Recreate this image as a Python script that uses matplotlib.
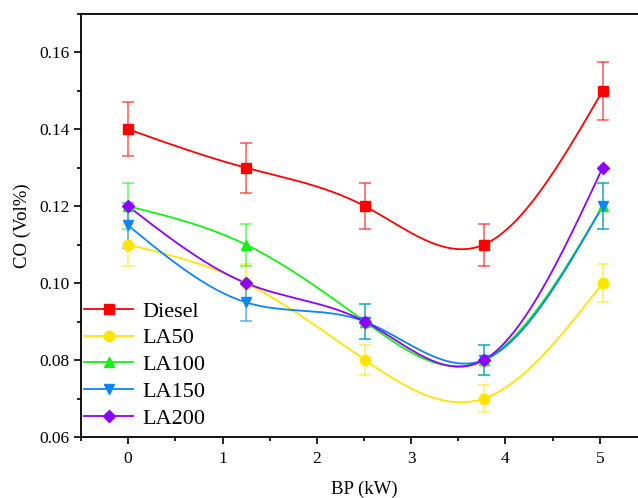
import numpy as np
import matplotlib
matplotlib.use("Agg")
import matplotlib.pyplot as plt
from matplotlib.ticker import MultipleLocator

plt.rcParams['font.family'] = ['Liberation Serif', 'DejaVu Serif']
plt.rcParams['mathtext.fontset'] = 'stix'

# Brake power (kW)
bp = [0.0, 1.25, 2.51, 3.77, 5.03]

# CO emissions (Vol%)
diesel = [0.14, 0.13, 0.12, 0.11, 0.15]
la50 = [0.11, 0.10, 0.08, 0.07, 0.10]
la100 = [0.12, 0.11, 0.09, 0.08, 0.12]
la150 = [0.115, 0.095, 0.09, 0.08, 0.12]
la200 = [0.12, 0.10, 0.09, 0.08, 0.13]

labels = ["Diesel", "LA50", "LA100", "LA150", "LA200"]
series = [diesel, la50, la100, la150, la200]
# relative error (fraction of value); LA200 drawn without error bars
rel_err = [0.05, 0.05, 0.05, 0.05, 0.0]

colors = ["#FF0000", "#FFE400", "#14F014", "#0A84FF", "#8C00FF"]
markers = ["s", "o", "^", "v", "D"]
msizes = [7, 7.5, 7.5, 7.5, 6]


def natural_spline(x, y, xs):
    x = np.asarray(x, float)
    y = np.asarray(y, float)
    n = len(x)
    h = np.diff(x)
    A = np.zeros((n, n))
    b = np.zeros(n)
    A[0, 0] = 1
    A[-1, -1] = 1
    for i in range(1, n - 1):
        A[i, i - 1] = h[i - 1]
        A[i, i] = 2 * (h[i - 1] + h[i])
        A[i, i + 1] = h[i]
        b[i] = 3 * ((y[i + 1] - y[i]) / h[i] - (y[i] - y[i - 1]) / h[i - 1])
    c = np.linalg.solve(A, b)
    out = np.empty_like(xs)
    for k, xv in enumerate(xs):
        i = min(max(np.searchsorted(x, xv) - 1, 0), n - 2)
        d = xv - x[i]
        bi = (y[i + 1] - y[i]) / h[i] - h[i] * (2 * c[i] + c[i + 1]) / 3
        di = (c[i + 1] - c[i]) / (3 * h[i])
        out[k] = y[i] + bi * d + c[i] * d ** 2 + di * d ** 3
    return out


fig = plt.figure(figsize=(6.38, 4.98), dpi=100)
ax = fig.add_axes([0.127, 0.1225, 0.887, 0.8495])

xs = np.linspace(bp[0], bp[-1], 300)
for lab, ys, col, mk, ms, re in zip(labels, series, colors, markers, msizes, rel_err):
    ax.plot(xs, natural_spline(bp, ys, xs), color=col, lw=1.3, zorder=2)
    if re > 0:
        ax.errorbar(bp, ys, yerr=np.array(ys) * re, fmt='none', ecolor=col,
                    elinewidth=1.1, capsize=4.5, capthick=1.1, alpha=0.65, zorder=3)
    ax.plot(bp, ys, linestyle='none', marker=mk, ms=ms, color=col, mec=col, zorder=4)
    ax.plot([], [], color=col, lw=1.3, marker=mk, ms=ms, label=lab)

ax.set_xlim(-0.5, 5.5)
ax.set_ylim(0.06, 0.17)
ax.xaxis.set_major_locator(MultipleLocator(1))
ax.xaxis.set_minor_locator(MultipleLocator(0.5))
ax.yaxis.set_major_locator(MultipleLocator(0.02))
ax.yaxis.set_minor_locator(MultipleLocator(0.01))
ax.set_yticks([0.06, 0.08, 0.10, 0.12, 0.14, 0.16])
ax.set_yticklabels(["0.06", "0.08", "0.10", "0.12", "0.14", "0.16"])
ax.tick_params(which='major', direction='out', length=5, width=1.2,
               labelsize=12.5, pad=3)
ax.tick_params(which='minor', direction='out', length=3, width=1.2)
ax.tick_params(axis='x', which='major', pad=5)
for s in ax.spines.values():
    s.set_linewidth(1.3)

ax.set_xlabel("BP (kW)", fontsize=13.5, labelpad=10)
ax.set_ylabel("CO (Vol%)", fontsize=13.5, labelpad=6)

ax.legend(loc='lower left', bbox_to_anchor=(-0.018, -0.012), frameon=False,
          fontsize=16, handlelength=2.2, handletextpad=0.4, labelspacing=0.28,
          borderaxespad=0.2)

fig.savefig("out.png", dpi=100)
